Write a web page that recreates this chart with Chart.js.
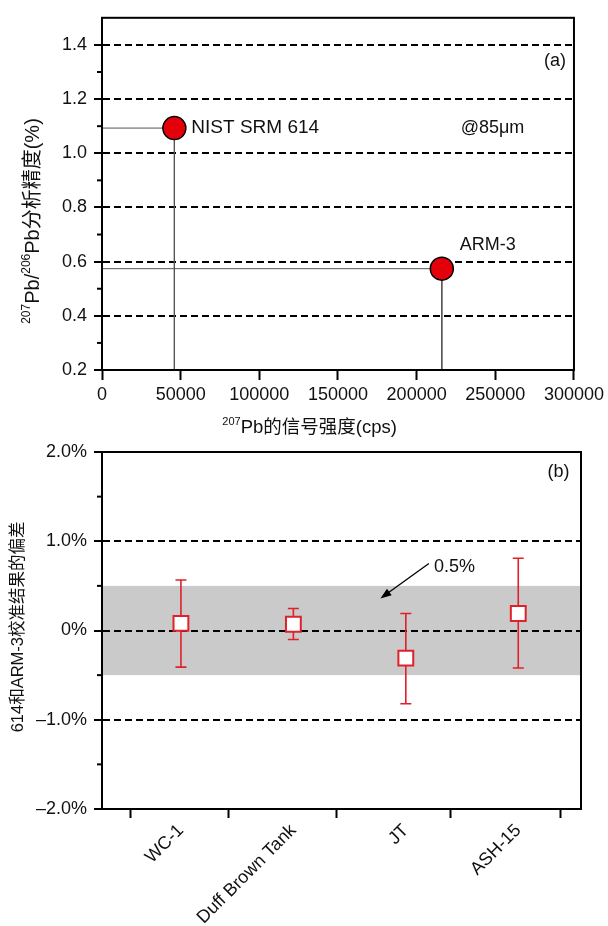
<!DOCTYPE html>
<html><head><meta charset="utf-8">
<script src="https://cdn.jsdelivr.net/npm/chart.js@4"></script>
<style>
html,body{margin:0;padding:0;background:#fff;}
body{width:608px;height:926px;position:relative;overflow:hidden;}
#wa{position:absolute;left:0;top:0;width:608px;height:445px;}
#wb{position:absolute;left:0;top:430px;width:608px;height:496px;}
</style></head><body>
<div id="wa"><canvas id="ca"></canvas></div>
<div id="wb"><canvas id="cb"></canvas></div>
<script>
// ---------- data: panel (a) ----------
const sampleNamesA = ['NIST SRM 614', 'ARM-3'];
const intensityCps = [46000, 216000];
const precisionPct = [1.093, 0.574];
const xTicksA = [0, 50000, 100000, 150000, 200000, 250000, 300000];
const yTicksA = [0.2, 0.4, 0.6, 0.8, 1.0, 1.2, 1.4];
const yMinorTicksA = [0.3, 0.5, 0.7, 0.9, 1.1, 1.3];

// ---------- data: panel (b) ----------
const categoriesB = ['WC-1', 'Duff Brown Tank', 'JT', 'ASH-15'];
const biasPct = [0.08, 0.07, -0.31, 0.19];
const biasLowPct = [-0.41, -0.10, -0.82, -0.42];
const biasHighPct = [0.565, 0.247, 0.19, 0.81];
const bandPct = [-0.5, 0.5];
const yTicksB = [-2, -1, 0, 1, 2];
const yTickLabelsB = ['\u20132.0%', '\u20131.0%', '0%', '1.0%', '2.0%'];
const yMinorTicksB = [-1.5, -0.5, 0.5, 1.5];
const xTickMarksB = [0.55, 1.42, 2.38, 3.4, 4.38];

// ---------- styling ----------
const FONT = "'Liberation Sans', Arial, 'Noto Sans CJK SC', sans-serif";
const RED_A = '#e3000b';
const RED_B = '#e0202a';
Chart.defaults.font.family = FONT;
Chart.defaults.color = '#111';
const TRANSPARENT = 'rgba(0,0,0,0)';

// frame around plot area
const framePlugin = {
  id: 'frame',
  afterDraw(chart) {
    const a = chart.chartArea, ctx = chart.ctx;
    ctx.save();
    ctx.strokeStyle = '#000';
    ctx.lineWidth = 2;
    ctx.strokeRect(a.left, a.top, a.right - a.left, a.bottom - a.top);
    ctx.restore();
  }
};

// minor ticks on y axis
const minorTicksPlugin = {
  id: 'minorTicks',
  afterDraw(chart, args, opts) {
    if (!opts || !opts.values) return;
    const y = chart.scales.y, ctx = chart.ctx, a = chart.chartArea;
    ctx.save();
    ctx.strokeStyle = '#000';
    ctx.lineWidth = 2;
    opts.values.forEach(v => {
      const py = y.getPixelForValue(v);
      ctx.beginPath();
      ctx.moveTo(a.left - opts.length, py);
      ctx.lineTo(a.left, py);
      ctx.stroke();
    });
    ctx.restore();
  }
};

// rich text (superscripts) drawing helper
function drawRuns(ctx, runs, cx, cy, size, rotate) {
  ctx.save();
  ctx.translate(cx, cy);
  if (rotate) ctx.rotate(-Math.PI / 2);
  const supSize = Math.round(size * 0.62);
  let total = 0;
  const widths = runs.map(r => {
    ctx.font = (r[1] ? supSize : size) + 'px ' + FONT;
    const w = ctx.measureText(r[0]).width;
    total += w;
    return w;
  });
  let x = -total / 2;
  ctx.fillStyle = '#111';
  ctx.textBaseline = 'middle';
  ctx.textAlign = 'left';
  runs.forEach((r, i) => {
    ctx.font = (r[1] ? supSize : size) + 'px ' + FONT;
    ctx.fillText(r[0], x, r[1] ? -size * 0.32 : 0);
    x += widths[i];
  });
  ctx.restore();
}

const axisTitlesPlugin = {
  id: 'axisTitles',
  afterDraw(chart, args, opts) {
    if (!opts || !opts.items) return;
    const a = chart.chartArea, ctx = chart.ctx;
    opts.items.forEach(it => {
      const cx = it.fx !== undefined ? a.left + it.fx * (a.right - a.left) : it.px;
      const cy = it.fy !== undefined ? a.top + it.fy * (a.bottom - a.top) : a.bottom + it.dy;
      drawRuns(ctx, it.runs, cx, cy, it.size, it.rotate);
    });
  }
};

// text annotations in data coordinates
const textPlugin = {
  id: 'dataTexts',
  afterDatasetsDraw(chart, args, opts) {
    if (!opts || !opts.items) return;
    const ctx = chart.ctx, sx = chart.scales.x, sy = chart.scales.y;
    ctx.save();
    ctx.fillStyle = '#111';
    ctx.textBaseline = 'middle';
    opts.items.forEach(it => {
      ctx.font = it.size + 'px ' + FONT;
      ctx.textAlign = it.align || 'left';
      ctx.fillText(it.text, sx.getPixelForValue(it.x) + (it.dx || 0), sy.getPixelForValue(it.y) + (it.dy || 0));
    });
    ctx.restore();
  }
};

// ---------- panel (a) ----------
const dropLineSets = intensityCps.map((x, i) => ({
  type: 'scatter',
  showLine: true,
  data: [
    { x: xTicksA[0], y: precisionPct[i] },
    { x: x, y: precisionPct[i] },
    { x: x, y: yTicksA[0] }
  ],
  borderColor: '#555',
  borderWidth: 1,
  pointRadius: 0,
  order: 2
}));

new Chart(document.getElementById('ca'), {
  type: 'scatter',
  data: {
    datasets: [
      {
        data: intensityCps.map((x, i) => ({ x: x, y: precisionPct[i] })),
        pointRadius: 11.5,
        pointHoverRadius: 11.5,
        backgroundColor: RED_A,
        borderColor: '#000',
        borderWidth: 1.5,
        order: 1
      },
      ...dropLineSets
    ]
  },
  options: {
    responsive: true,
    maintainAspectRatio: false,
    animation: false,
    events: [],
    layout: { padding: { top: 15, right: 31, left: 0, bottom: 0 } },
    scales: {
      x: {
        type: 'linear',
        min: 0, max: 300000,
        afterBuildTicks: s => { s.ticks = xTicksA.map(v => ({ value: v })); },
        afterFit: s => { s.height = 75; },
        grid: { drawOnChartArea: false, tickLength: 10, tickWidth: 2, tickColor: '#000' },
        border: { display: true, width: 2, color: '#000' },
        ticks: { font: { size: 18 }, color: '#111', padding: 4, maxRotation: 0, callback: v => String(v) }
      },
      y: {
        type: 'linear',
        min: 0.2, max: 1.5,
        afterBuildTicks: s => { s.ticks = yTicksA.map(v => ({ value: v })); },
        afterFit: s => { s.width = 102; },
        grid: {
          color: c => (c.tick && Math.abs(c.tick.value - yTicksA[0]) < 1e-9) ? TRANSPARENT : '#000',
          lineWidth: 2,
          tickLength: 8, tickWidth: 2, tickColor: '#000'
        },
        border: { display: true, width: 2, color: '#000', dash: [7, 4] },
        ticks: { font: { size: 18 }, color: '#111', padding: 7, callback: v => v.toFixed(1) }
      }
    },
    plugins: {
      legend: { display: false },
      tooltip: { enabled: false },
      minorTicks: { values: yMinorTicksA, length: 5 },
      axisTitles: {
        items: [
          { runs: [['207', true], ['Pb\u7684\u4fe1\u53f7\u5f3a\u5ea6(cps)', false]], fx: 0.44, dy: 58, size: 18.5 },
          { runs: [['207', true], ['Pb/', false], ['206', true], ['Pb\u5206\u6790\u7cbe\u5ea6(%)', false]], px: 33, fy: 0.577, size: 20, rotate: true }
        ]
      },
      dataTexts: {
        items: [
          { text: sampleNamesA[0], x: intensityCps[0], y: precisionPct[0], dx: 17, size: 19 },
          { text: sampleNamesA[1], x: intensityCps[1], y: precisionPct[1], dx: 18, dy: -24, size: 18 },
          { text: '@85\u03bcm', x: 228000, y: 1.093, size: 18 },
          { text: '(a)', x: 288000, y: 1.342, size: 18, align: 'center' }
        ]
      }
    }
  },
  plugins: [framePlugin, minorTicksPlugin, axisTitlesPlugin, textPlugin]
});

// ---------- panel (b) ----------
const bandPlugin = {
  id: 'band',
  beforeDraw(chart) {
    const a = chart.chartArea, y = chart.scales.y, ctx = chart.ctx;
    const y1 = y.getPixelForValue(bandPct[1]), y0 = y.getPixelForValue(bandPct[0]);
    ctx.save();
    ctx.fillStyle = '#cacaca';
    ctx.fillRect(a.left, y1, a.right - a.left, y0 - y1);
    ctx.restore();
  }
};

const errorBarPlugin = {
  id: 'errorBars',
  beforeDatasetsDraw(chart) {
    const x = chart.scales.x, y = chart.scales.y, ctx = chart.ctx;
    ctx.save();
    ctx.strokeStyle = RED_B;
    ctx.lineWidth = 1.6;
    biasPct.forEach((v, i) => {
      const px = x.getPixelForValue(i + 1);
      const lo = y.getPixelForValue(biasLowPct[i]);
      const hi = y.getPixelForValue(biasHighPct[i]);
      ctx.beginPath();
      ctx.moveTo(px, lo); ctx.lineTo(px, hi);
      ctx.moveTo(px - 5.5, lo); ctx.lineTo(px + 5.5, lo);
      ctx.moveTo(px - 5.5, hi); ctx.lineTo(px + 5.5, hi);
      ctx.stroke();
    });
    ctx.restore();
  }
};

const arrowPlugin = {
  id: 'arrow',
  afterDatasetsDraw(chart, args, opts) {
    const x = chart.scales.x, y = chart.scales.y, ctx = chart.ctx;
    const x0 = x.getPixelForValue(opts.from[0]), y0 = y.getPixelForValue(opts.from[1]);
    const x1 = x.getPixelForValue(opts.to[0]), y1 = y.getPixelForValue(opts.to[1]);
    const ang = Math.atan2(y1 - y0, x1 - x0);
    ctx.save();
    ctx.strokeStyle = '#000';
    ctx.fillStyle = '#000';
    ctx.lineWidth = 1.3;
    ctx.beginPath();
    ctx.moveTo(x0, y0);
    ctx.lineTo(x1 - 8 * Math.cos(ang), y1 - 8 * Math.sin(ang));
    ctx.stroke();
    ctx.beginPath();
    ctx.moveTo(x1, y1);
    ctx.lineTo(x1 - 11 * Math.cos(ang) + 4 * Math.sin(ang), y1 - 11 * Math.sin(ang) - 4 * Math.cos(ang));
    ctx.lineTo(x1 - 11 * Math.cos(ang) - 4 * Math.sin(ang), y1 - 11 * Math.sin(ang) + 4 * Math.cos(ang));
    ctx.closePath();
    ctx.fill();
    ctx.restore();
  }
};

const categoryPositionsB = categoriesB.map((c, i) => i + 1);
const allXTicksB = [...xTickMarksB, ...categoryPositionsB].sort((a, b) => a - b);

new Chart(document.getElementById('cb'), {
  type: 'scatter',
  data: {
    datasets: [{
      data: biasPct.map((v, i) => ({ x: categoryPositionsB[i], y: v })),
      pointStyle: 'rect',
      pointRadius: 10.5,
      pointHoverRadius: 10.5,
      backgroundColor: '#fff',
      borderColor: RED_B,
      borderWidth: 2
    }]
  },
  options: {
    responsive: true,
    maintainAspectRatio: false,
    animation: false,
    events: [],
    layout: { padding: { top: 22, right: 27, left: 0, bottom: 0 } },
    scales: {
      x: {
        type: 'linear',
        min: 0.298, max: 4.558,
        afterBuildTicks: s => { s.ticks = allXTicksB.map(v => ({ value: v })); },
        afterFit: s => { s.height = 117; },
        grid: {
          drawOnChartArea: false, tickLength: 9, tickWidth: 2,
          tickColor: c => (c.tick && Number.isInteger(c.tick.value)) ? TRANSPARENT : '#000'
        },
        border: { display: true, width: 2, color: '#000' },
        ticks: {
          font: { size: 18 }, color: '#111', padding: 2, autoSkip: false,
          minRotation: 45, maxRotation: 45,
          callback: v => Number.isInteger(v) ? categoriesB[v - 1] : ''
        }
      },
      y: {
        type: 'linear',
        min: -2, max: 2,
        afterBuildTicks: s => { s.ticks = yTicksB.map(v => ({ value: v })); },
        afterFit: s => { s.width = 102; },
        grid: {
          color: c => (c.tick && Math.abs(c.tick.value) === 2) ? TRANSPARENT : '#000',
          lineWidth: 2,
          tickLength: 8, tickWidth: 2, tickColor: '#000'
        },
        border: { display: true, width: 2, color: '#000', dash: [7, 4] },
        ticks: { font: { size: 18 }, color: '#111', padding: 7, callback: v => yTickLabelsB[yTicksB.indexOf(v)] }
      }
    },
    plugins: {
      legend: { display: false },
      tooltip: { enabled: false },
      minorTicks: { values: yMinorTicksB, length: 5 },
      axisTitles: {
        items: [
          { runs: [['614\u548cARM-3\u6821\u51c6\u7ed3\u679c\u7684\u504f\u5dee', false]], px: 18, fy: 0.49, size: 16.5, rotate: true }
        ]
      },
      dataTexts: {
        items: [
          { text: '(b)', x: 4.358, y: 1.777, size: 18, align: 'center' },
          { text: '0.5%', x: 3.251, y: 0.713, size: 18 }
        ]
      },
      arrow: { from: [3.205, 0.751], to: [2.774, 0.359] }
    }
  },
  plugins: [bandPlugin, errorBarPlugin, framePlugin, minorTicksPlugin, axisTitlesPlugin, textPlugin, arrowPlugin]
});
</script>
</body></html>
